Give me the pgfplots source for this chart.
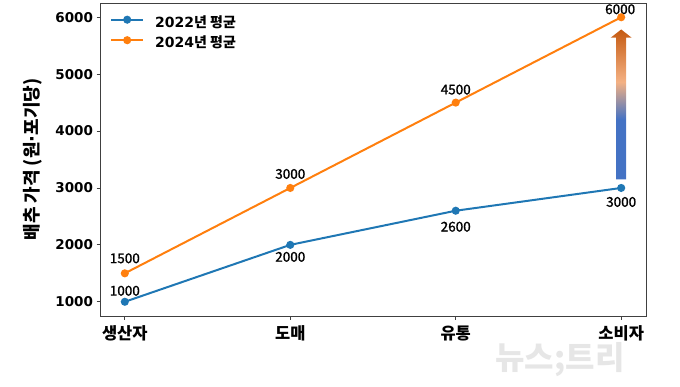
\documentclass[border=0pt]{standalone}
\usepackage{fontspec}
\usepackage{pgfplots}
\pgfplotsset{compat=1.18}
\setmainfont{DejaVu Sans}
\newfontfamily\kr{Noto Sans CJK KR}
\newfontfamily\krmed[FakeBold=1.2]{Noto Sans CJK KR}
\definecolor{mplblue}{HTML}{1F77B4}
\definecolor{mplorange}{HTML}{FF7F0E}
\definecolor{ablue}{HTML}{4472C4}
\definecolor{apeach}{HTML}{F4B183}
\definecolor{atop}{HTML}{C55A11}
\definecolor{wm}{HTML}{E6E6E6}
\pgfdeclareverticalshading{arrowgrad}{100bp}{color(0bp)=(ablue); color(25bp)=(ablue); color(45bp)=(ablue); color(57.5bp)=(apeach); color(75bp)=(atop); color(100bp)=(atop)}
\begin{document}
\begin{tikzpicture}
\useasboundingbox (0,0) rectangle (680pt,386pt);
\node[text=wm, font={\kr\bfseries\fontsize{32}{32}\selectfont}] at (560pt,26pt) {뉴스;트리};
\begin{axis}[
  at={(100pt,70pt)}, anchor=south west,
  scale only axis, width=546pt, height=313pt,
  xmin=-0.15, xmax=3.15, ymin=750, ymax=6250,
  axis line style={black!75, line width=0.8pt},
  tick align=outside, major tick length=3.5pt,
  tick style={black!75, line width=0.8pt},
  xtick pos=bottom, ytick pos=left,
  xtick={0,1,2,3},
  xticklabels={생산자,도매,유통,소비자},
  xticklabel style={font={\kr\bfseries\fontsize{16.5}{16.5}\selectfont}, yshift=-3pt},
  ytick={1000,2000,3000,4000,5000,6000},
  yticklabel style={font={\bfseries\fontsize{13.5}{14}\selectfont}},
  /pgf/number format/assume math mode=true,
  /pgf/number format/1000 sep={},
  ylabel={배추 가격 (원{\normalfont\bfseries ·}포기당)},
  every axis y label/.style={at={(axis description cs:-0.1227,0.5)}, rotate=90, anchor=center, font={\kr\bfseries\fontsize{18}{18}\selectfont}},
  legend style={draw=none, fill=none, inner sep=0pt, at={(axis description cs:0,1)}, anchor=north west,
    xshift=10pt, yshift=-13.5pt,
    font={\bfseries\fontsize{14}{14}\selectfont},
    nodes={inner sep=0pt, text height=10pt, text depth=3pt},
    row sep=7pt,
    /tikz/every odd column/.append style={column sep=11pt}},
  legend cell align=left,
  legend image code/.code={\draw[mark repeat=2, mark phase=2, #1] plot coordinates {(0pt,4pt) (16pt,4pt) (32pt,4pt)};},
]
\addplot[mplblue, line width=2pt, mark=*, mark size=3pt] coordinates {(0,1000) (1,2000) (2,2600) (3,3000)};
\addlegendentry{2022{\kr\bfseries 년 평균}}
\addplot[mplorange, line width=2pt, mark=*, mark size=3pt] coordinates {(0,1500) (1,3000) (2,4500) (3,6000)};
\addlegendentry{2024{\kr\bfseries 년 평균}}
\shade[shading=arrowgrad] ([xshift=-5pt]axis cs:3,3150) -- ([xshift=5pt]axis cs:3,3150) -- ([xshift=5pt]axis cs:3,5640) -- ([xshift=10.5pt]axis cs:3,5640) -- (axis cs:3,5785) -- ([xshift=-10.5pt]axis cs:3,5640) -- ([xshift=-5pt]axis cs:3,5640) -- cycle;
\tikzset{ann/.style={font={\krmed\fontsize{13.5}{14}\selectfont}, inner sep=0pt}}
\node[ann] at ([yshift=11pt]axis cs:0,1000) {1000};
\node[ann] at ([yshift=-12pt]axis cs:1,2000) {2000};
\node[ann] at ([yshift=-16pt]axis cs:2,2600) {2600};
\node[ann] at ([yshift=-14pt]axis cs:3,3000) {3000};
\node[ann] at ([yshift=15pt]axis cs:0,1500) {1500};
\node[ann] at ([yshift=14pt]axis cs:1,3000) {3000};
\node[ann] at ([yshift=13pt]axis cs:2,4500) {4500};
\node[ann] at ([yshift=8pt,xshift=-1pt]axis cs:3,6000) {6000};
\end{axis}
\end{tikzpicture}
\end{document}
